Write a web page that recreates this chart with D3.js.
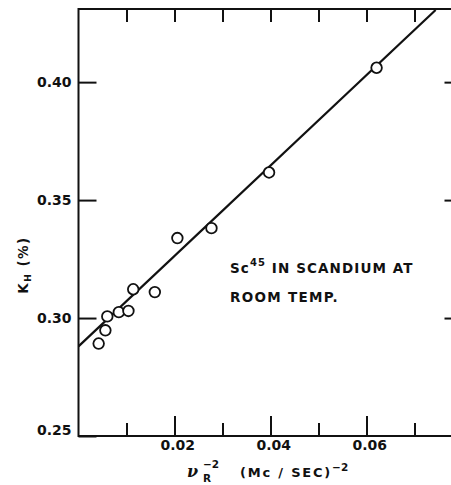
<!DOCTYPE html>
<html>
<head>
<meta charset="utf-8">
<script src="https://cdn.jsdelivr.net/npm/d3@7"></script>
<style>
  html, body { margin: 0; padding: 0; background: #fff; }
  svg { display: block; }
  text { font-family: "DejaVu Sans", sans-serif; font-weight: bold; fill: #111; }
</style>
</head>
<body>
<svg id="chart" width="451" height="485"></svg>
<script>
// ---- data ----
const pointX = [0.0042, 0.0056, 0.0060, 0.0084, 0.0104, 0.0114, 0.0159, 0.0206, 0.0277, 0.0397, 0.0621];
const pointY = [0.2892, 0.2948, 0.3007, 0.3025, 0.3030, 0.3122, 0.3110, 0.3339, 0.3381, 0.3617, 0.4061];
const fitX = [0, 0.0744];
const fitY = [0.2880, 0.4306];
const xMajorTicks = [0.02, 0.04, 0.06];
const xMinorTicks = [0.01, 0.03, 0.05, 0.07];
const xTopTicks = [0.01, 0.02, 0.03, 0.04, 0.05, 0.06, 0.07];
const yTicks = [0.25, 0.30, 0.35, 0.40];
const yRightTicks = [0.30, 0.35, 0.40];

const svg = d3.select("#chart");
const x = d3.scaleLinear().domain([0, 0.08]).range([78.5, 462.5]);
const y = d3.scaleLinear().domain([0.25, 0.431]).range([436, 9]);

const ink = "#111";

// frame
svg.append("rect")
  .attr("x", x(0)).attr("y", y(0.431))
  .attr("width", x(0.08) - x(0)).attr("height", y(0.25) - y(0.431))
  .attr("fill", "none").attr("stroke", ink).attr("stroke-width", 2);

function styleAxis(g) {
  g.select(".domain").remove();
  g.selectAll("line").attr("stroke", ink).attr("stroke-width", 2);
  g.selectAll("text").attr("fill", ink).style("font-family", "DejaVu Sans, sans-serif").style("font-weight", "bold");
}

// bottom axis
svg.append("g").attr("transform", `translate(0,${y(0.25)})`)
  .call(d3.axisBottom(x).tickValues(xMajorTicks).tickSize(-20).tickPadding(4).tickFormat(d3.format(".2f")))
  .call(styleAxis)
  .call(g => g.selectAll("text").style("font-size", "14px").attr("dx", "0.2em"));
svg.append("g").attr("transform", `translate(0,${y(0.25)})`)
  .call(d3.axisBottom(x).tickValues(xMinorTicks).tickSize(-13).tickFormat(""))
  .call(styleAxis);

// top axis
svg.append("g").attr("transform", `translate(0,${y(0.431)})`)
  .call(d3.axisTop(x).tickValues(xTopTicks).tickSize(-13).tickFormat(""))
  .call(styleAxis);

// left axis
svg.append("g").attr("transform", `translate(${x(0)},0)`)
  .call(d3.axisLeft(y).tickValues(yTicks).tickSize(-18).tickPadding(7).tickFormat(d3.format(".2f")))
  .call(styleAxis)
  .call(g => {
    g.selectAll("text").style("font-size", "14px");
    g.selectAll(".tick").filter(d => d === 0.25).select("text").attr("dy", "-0.08em");
  });

// right axis
svg.append("g").attr("transform", `translate(${x(0.08)},0)`)
  .call(d3.axisRight(y).tickValues(yRightTicks).tickSize(-18).tickFormat(""))
  .call(styleAxis);

// clip
svg.append("clipPath").attr("id", "plotclip")
  .append("rect").attr("x", x(0)).attr("y", y(0.431))
  .attr("width", x(0.08) - x(0)).attr("height", y(0.25) - y(0.431));

// fitted line
const fit = fitX.map((d, i) => [d, fitY[i]]);
svg.append("path")
  .attr("clip-path", "url(#plotclip)")
  .attr("d", d3.line().x(d => x(d[0])).y(d => y(d[1]))(fit))
  .attr("fill", "none").attr("stroke", ink).attr("stroke-width", 2.2);

// points
svg.append("g").selectAll("circle")
  .data(pointX.map((d, i) => [d, pointY[i]]))
  .join("circle")
  .attr("cx", d => x(d[0])).attr("cy", d => y(d[1]))
  .attr("r", 5.3)
  .attr("fill", "#fff").attr("stroke", ink).attr("stroke-width", 1.8);

// annotation
const ann1 = svg.append("text").attr("x", 230).attr("y", 273)
  .style("font-size", "13.5px").attr("letter-spacing", "1.1");
ann1.append("tspan").text("Sc");
ann1.append("tspan").attr("dy", -7).style("font-size", "10px").text("45");
ann1.append("tspan").attr("dy", 7).text(" IN SCANDIUM AT");
svg.append("text").attr("x", 230).attr("y", 302)
  .style("font-size", "13.5px").attr("letter-spacing", "1.3").text("ROOM TEMP.");

// x axis title
const xt = svg.append("text").attr("y", 477).style("font-size", "13px");
xt.append("tspan").attr("x", 187).style("font-family", "DejaVu Serif, serif").style("font-style", "italic").style("font-size", "16px").text("ν");
xt.append("tspan").attr("x", 203).attr("dy", 5).style("font-size", "10.5px").text("R");
xt.append("tspan").attr("x", 203).attr("dy", -14).style("font-size", "10.5px").text("−2");
xt.append("tspan").attr("x", 240).attr("dy", 9).attr("letter-spacing", "1.8").text("(Mc / SEC)");
xt.append("tspan").attr("dy", -6).style("font-size", "10.5px").text("−2");

// y axis title
const yt = svg.append("text").attr("transform", "translate(28,265) rotate(-90)")
  .attr("text-anchor", "middle").style("font-size", "13.5px").attr("letter-spacing", "1.5");
yt.append("tspan").text("K");
yt.append("tspan").attr("dy", 3).style("font-size", "9px").text("H");
yt.append("tspan").attr("dy", -3).text(" (%)");
</script>
</body>
</html>
